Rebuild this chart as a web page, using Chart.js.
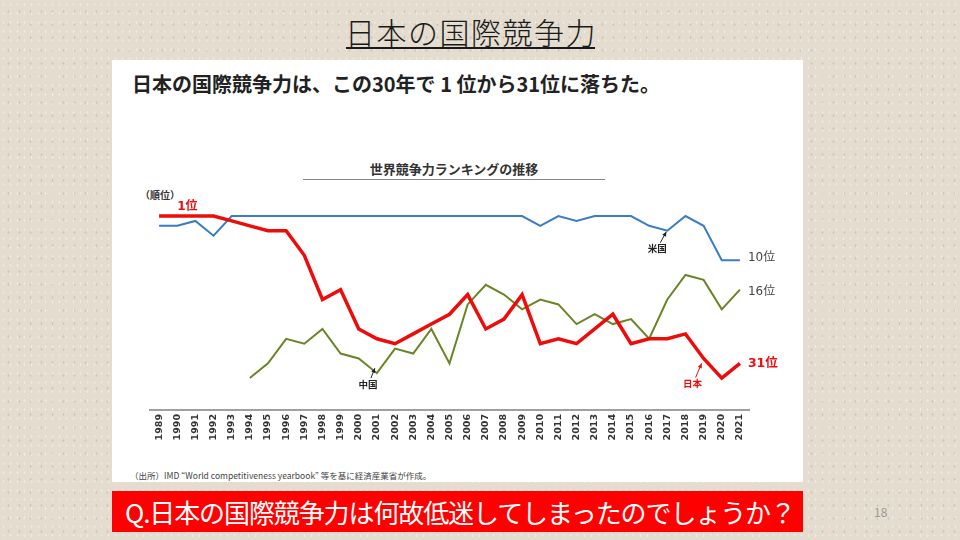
<!DOCTYPE html>
<html>
<head>
<meta charset="utf-8">
<script src="https://cdn.jsdelivr.net/npm/chart.js@4.4.1/dist/chart.umd.min.js"></script>
<style>
html,body{margin:0;padding:0;}
body{width:960px;height:540px;position:relative;overflow:hidden;
  background-color:#e3dccf;
  background-image:radial-gradient(rgba(255,255,255,0.35) 0.8px, transparent 1.2px),radial-gradient(rgba(150,135,110,0.25) 0.8px, transparent 1.2px);
  background-size:7px 9px, 11px 13px;
  background-position:0 0, 3px 5px;
  font-family:"Noto Sans CJK JP","Noto Sans",sans-serif;}
#title{position:absolute;left:300px;width:342px;top:11px;text-align:center;font-size:30px;line-height:40px;color:#1a1a1a;font-weight:300;letter-spacing:1.5px;}
#tline{position:absolute;left:346px;width:249px;top:47px;height:2px;background:#1a1a1a;}
#panel{position:absolute;left:112px;top:60px;width:691px;height:422px;background:#fff;}
#heading{position:absolute;left:132px;top:70px;font-size:20px;line-height:28px;font-weight:bold;color:#222;white-space:nowrap;}
#ctitle{position:absolute;left:303px;width:302px;top:160px;text-align:center;font-size:13px;line-height:18px;font-weight:bold;color:#333;}
#cline{position:absolute;left:303px;width:302px;top:179px;height:0;border-top:1px solid #888;}
#unit{position:absolute;left:140px;top:187px;font-size:10px;line-height:16px;font-weight:bold;color:#333;}
#source{position:absolute;left:130px;top:469px;font-size:8.5px;line-height:12px;color:#444;white-space:nowrap;}
#qbox{position:absolute;left:112px;top:491px;width:691px;height:41px;background:#ff0000;}
#qtext{position:absolute;left:125px;top:491px;height:41px;line-height:41px;font-size:26px;color:#fff;white-space:nowrap;letter-spacing:-1.1px;}
#page{position:absolute;left:874px;top:505px;font-size:12px;line-height:14px;color:#9a9a9a;}
#c{position:absolute;left:0;top:0;}
</style>
</head>
<body>
<div id="title">日本の国際競争力</div>
<div id="tline"></div>
<div id="panel"></div>
<div id="heading">日本の国際競争力は、この30年で 1 位から31位に落ちた。</div>
<div id="ctitle">世界競争力ランキングの推移</div>
<div id="cline"></div>
<div id="unit">（順位）</div>
<div id="source">（出所）IMD “World competitiveness yearbook” 等を基に経済産業省が作成。</div>
<div id="qbox"></div>
<div id="qtext">Q.日本の国際競争力は何故低迷してしまったのでしょうか？</div>
<div id="page">18</div>
<canvas id="c" width="960" height="540"></canvas>
<script>
const years = ['1989','1990','1991','1992','1993','1994','1995','1996','1997','1998','1999','2000','2001','2002','2003','2004','2005','2006','2007','2008','2009','2010','2011','2012','2013','2014','2015','2016','2017','2018','2019','2020','2021'];
const japanRank = [1,1,1,1,2,3,4,4,9,18,16,24,26,27,25,23,21,17,24,22,17,27,26,27,24,21,27,26,26,25,30,34,31];
const usRank = [3,3,2,5,1,1,1,1,1,1,1,1,1,1,1,1,1,1,1,1,1,3,1,2,1,1,1,3,4,1,3,10,10];
const chinaRank = [null,null,null,null,null,34,31,26,27,24,29,30,33,28,29,24,31,19,15,17,20,18,19,23,21,23,22,26,18,13,14,20,16];
const seriesNames = ['日本','米国','中国'];
const endLabels = ['31位','10位','16位'];
const startLabel = '1位';

const colors = {jp:'#ee0b0b', us:'#3b7cc6', cn:'#6b8426'};

const annot = {
  id:'annot',
  afterDatasetsDraw(chart){
    const ctx = chart.ctx;
    const xs = chart.scales.x, ys = chart.scales.y;
    const n = years.length-1;
    ctx.save();
    ctx.textBaseline='middle';
    ctx.fillStyle=colors.jp;
    ctx.font='bold 12px "DejaVu Sans","Noto Sans CJK JP"';
    ctx.textAlign='center';
    ctx.fillText(startLabel,(xs.getPixelForValue(1)+xs.getPixelForValue(2))/2+1, ys.getPixelForValue(japanRank[0])-9);
    ctx.textAlign='left';
    const ex = xs.getPixelForValue(n)+8;
    ctx.font='bold 12.5px "DejaVu Sans","Noto Sans CJK JP"';
    ctx.fillStyle=colors.jp;
    ctx.fillText(endLabels[0], ex, ys.getPixelForValue(japanRank[n]));
    ctx.font='12px "DejaVu Sans","Noto Sans CJK JP"';
    ctx.fillStyle='#444';
    ctx.fillText(endLabels[1], ex, ys.getPixelForValue(usRank[n])-2);
    ctx.fillText(endLabels[2], ex, ys.getPixelForValue(chinaRank[n])+2);
    function callout(text,color,idx,val,dx,dy,tipdx,tipdy){
      const px = xs.getPixelForValue(idx), py = ys.getPixelForValue(val);
      const lx = px+dx, ly = py+dy;
      ctx.font='bold 9.5px "Noto Sans CJK JP"';
      ctx.fillStyle=color;
      ctx.textAlign='center';
      ctx.fillText(text,lx,ly);
      const sx = lx+3, sy = ly-6;
      const tx = px+tipdx, ty = py+tipdy;
      ctx.strokeStyle=color;ctx.lineWidth=1;
      ctx.beginPath();ctx.moveTo(sx,sy);ctx.lineTo(tx,ty);ctx.stroke();
      const a = Math.atan2(ty-sy,tx-sx);
      ctx.beginPath();
      ctx.moveTo(tx,ty);
      ctx.lineTo(tx-5*Math.cos(a-0.45),ty-5*Math.sin(a-0.45));
      ctx.lineTo(tx-5*Math.cos(a+0.45),ty-5*Math.sin(a+0.45));
      ctx.closePath();ctx.fill();
    }
    callout(seriesNames[1],'#222',28,usRank[28],-10,18,-1,1);
    callout(seriesNames[0],colors.jp,30,japanRank[30],-11,25,-2,5);
    callout(seriesNames[2],'#222',12,chinaRank[12],-9,11,-2,-5);
    ctx.restore();
  }
};

new Chart(document.getElementById('c'),{
  type:'line',
  data:{
    labels:years,
    datasets:[
      {label:seriesNames[0],data:japanRank,borderColor:colors.jp,borderWidth:3.5,pointRadius:0,tension:0,fill:false,borderJoinStyle:'miter'},
      {label:seriesNames[1],data:usRank,borderColor:colors.us,borderWidth:2,pointRadius:0,tension:0,fill:false},
      {label:seriesNames[2],data:chinaRank,borderColor:colors.cn,borderWidth:2,pointRadius:0,tension:0,fill:false}
    ]
  },
  options:{
    responsive:false,
    animation:false,
    devicePixelRatio:1,
    layout:{padding:{left:150,right:211,top:211.1,bottom:0}},
    plugins:{legend:{display:false},tooltip:{enabled:false},title:{display:false}},
    scales:{
      x:{
        type:'category',
        offset:true,
        grid:{display:false,drawTicks:false},
        border:{display:true,color:'#a0a0a0',width:2},
        ticks:{minRotation:90,maxRotation:90,autoSkip:false,padding:4,color:'#333',font:{family:'"DejaVu Sans"',size:9.5,weight:'bold'}},
        afterFit(s){s.height=130;}
      },
      y:{
        display:false,
        reverse:true,
        min:0,
        max:40.5
      }
    }
  },
  plugins:[annot]
});
</script>
</body>
</html>
